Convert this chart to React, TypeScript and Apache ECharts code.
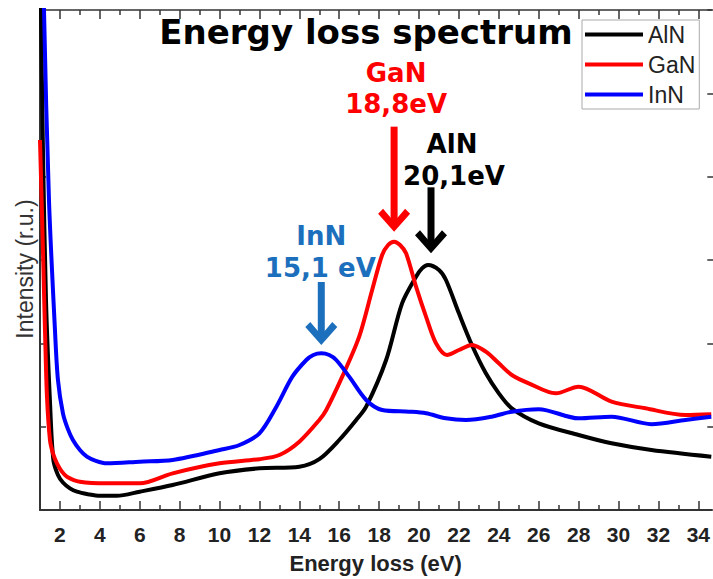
import React, { useEffect, useRef } from "react";
import * as echarts from "echarts";

const alnEnergy = [1.0, 1.05, 1.15, 1.3, 1.5, 1.67, 1.9, 2.15, 2.5, 2.85, 3.4, 4, 4.85, 6, 7.65, 10, 12, 14, 15, 16, 16.85, 17.35, 18.35, 19.15, 19.85, 20.15, 20.45, 21.0, 21.35, 22, 22.65, 23.35, 24, 24.65, 26, 28, 29.65, 31.65, 34.65];
const alnIntensity = [7.0, 6.0, 4.3, 2.52, 1.3, 0.6, 0.42, 0.33, 0.26, 0.22, 0.19, 0.17, 0.17, 0.22, 0.3, 0.44, 0.5, 0.52, 0.61, 0.84, 1.08, 1.24, 1.8, 2.48, 2.8, 2.9, 2.94, 2.88, 2.76, 2.36, 1.98, 1.64, 1.4, 1.22, 1.04, 0.9, 0.8, 0.72, 0.64];

const ganEnergy = [1.0, 1.17, 1.25, 1.35, 1.5, 1.65, 1.85, 2.1, 2.35, 3, 4.35, 6, 7.65, 10, 12, 13, 14, 15, 15.35, 16.15, 17, 17.65, 18.15, 18.45, 18.75, 19.05, 19.35, 19.85, 20.35, 20.85, 21.4, 22, 22.65, 23.35, 24, 24.65, 25.5, 26.85, 28, 29.65, 31.35, 33.35, 34.65];
const ganIntensity = [4.44, 2.92, 2.16, 1.36, 0.84, 0.68, 0.56, 0.46, 0.4, 0.34, 0.32, 0.32, 0.44, 0.56, 0.61, 0.66, 0.82, 1.08, 1.2, 1.6, 2.08, 2.64, 3.06, 3.18, 3.22, 3.18, 3.08, 2.68, 2.32, 2.0, 1.86, 1.92, 1.98, 1.9, 1.76, 1.62, 1.52, 1.4, 1.48, 1.3, 1.22, 1.14, 1.15];

const innEnergy = [1.0, 1.2, 1.45, 1.75, 1.9, 2.15, 2.4, 2.65, 3.0, 3.35, 3.8, 4.35, 6, 7.65, 10, 11, 12, 12.85, 13.65, 14.35, 14.7, 15.1, 15.5, 15.85, 16.5, 17.35, 18.15, 19.5, 20.35, 21.35, 22.35, 23.65, 24.65, 26, 28, 29.65, 31.65, 33.35, 34.65];
const innIntensity = [9, 6.0, 3.72, 2.16, 1.56, 1.16, 0.97, 0.84, 0.72, 0.64, 0.59, 0.56, 0.58, 0.6, 0.72, 0.78, 0.92, 1.24, 1.6, 1.8, 1.86, 1.88, 1.86, 1.8, 1.6, 1.32, 1.2, 1.18, 1.16, 1.1, 1.08, 1.12, 1.18, 1.21, 1.1, 1.12, 1.03, 1.08, 1.12];

const seriesNames = ["AlN", "GaN", "InN"];
const majorTicks = [2, 4, 6, 8, 10, 12, 14, 16, 18, 20, 22, 24, 26, 28, 30, 32, 34];
const minorTicks = [3, 5, 7, 9, 11, 13, 15, 17, 19, 21, 23, 25, 27, 29, 31, 33];

const peakNames = ["GaN", "AlN", "InN"];
const peakValueTexts = ["18,8eV", "20,1eV", "15,1 eV"];
const peakArrowEnergy = [18.75, 20.6, 15.1];
const peakArrowTipIntensity = [3.34, 3.08, 1.98];

const zip = (xs: number[], ys: number[]) => xs.map((x, i) => [x, ys[i]]);

export default function App() {
  const ref = useRef<HTMLDivElement>(null);

  useEffect(() => {
    if (!ref.current) return;
    const chart = echarts.init(ref.current, null, { renderer: "svg" });
    const colors = ["#000000", "#ff0000", "#0000ff"];
    const axisColor = "#333";
    const xRange = { min: 1, max: 34.65 };
    const labelFont = "Liberation Sans";

    const baseX = (pos: string, ticks: number[], len: number, showLine: boolean, showLabel: boolean, extra: any = {}) => ({
      type: "value",
      position: pos,
      ...xRange,
      axisLine: { show: showLine, onZero: false, lineStyle: { color: axisColor, width: pos === "bottom" ? 2 : 1.5 } },
      axisTick: { show: true, inside: true, length: len, customValues: ticks, lineStyle: { color: axisColor, width: 1.5 } },
      axisLabel: showLabel
        ? { show: true, customValues: ticks, margin: 14, fontSize: 21, fontWeight: "bold", fontFamily: labelFont, color: "#222" }
        : { show: false },
      splitLine: { show: false },
      ...extra,
    });

    const option: any = {
      animation: false,
      title: {
        text: "Energy loss spectrum",
        left: 366,
        top: 32,
        textAlign: "center",
        textVerticalAlign: "middle",
        padding: 0,
        textStyle: { fontFamily: "DejaVu Sans", fontWeight: "bold", fontSize: 34, color: "#000" },
      },
      legend: {
        data: seriesNames,
        orient: "vertical",
        left: 582,
        top: 20,
        icon: "rect",
        itemWidth: 58,
        itemHeight: 4,
        itemGap: 7,
        padding: [3, 4, 3, 3],
        borderColor: "#aaa",
        borderWidth: 1,
        backgroundColor: "#fff",
        textStyle: { fontFamily: labelFont, fontSize: 23, color: "#222" },
      },
      grid: { left: 40, top: 10, right: 0, bottom: 69, containLabel: false },
      xAxis: [
        baseX("bottom", majorTicks, 9, true, true, {
          name: "Energy loss (eV)",
          nameLocation: "middle",
          nameGap: 42,
          nameTextStyle: { fontFamily: labelFont, fontWeight: "bold", fontSize: 22, color: "#222" },
        }),
        baseX("bottom", minorTicks, 5, false, false),
        baseX("top", majorTicks, 9, true, false),
        baseX("top", minorTicks, 5, false, false),
      ],
      yAxis: [
        {
          type: "value",
          position: "left",
          min: 0,
          max: 6,
          interval: 1,
          axisLine: { show: true, lineStyle: { color: axisColor, width: 2 } },
          axisTick: { show: true, inside: true, length: 6, lineStyle: { color: axisColor, width: 1.5 } },
          axisLabel: { show: false },
          splitLine: { show: false },
        },
        {
          type: "value",
          position: "right",
          offset: 7,
          min: 0,
          max: 6,
          interval: 1,
          axisLine: { show: true, lineStyle: { color: axisColor, width: 2 } },
          axisTick: { show: true, inside: true, length: 11, lineStyle: { color: axisColor, width: 1.5 } },
          axisLabel: { show: false },
          splitLine: { show: false },
        },
      ],
      series: [
        { name: "AlN", data: zip(alnEnergy, alnIntensity) },
        { name: "GaN", data: zip(ganEnergy, ganIntensity) },
        { name: "InN", data: zip(innEnergy, innIntensity) },
      ].map((s, i) => ({
        ...s,
        type: "line",
        xAxisIndex: 0,
        yAxisIndex: 0,
        smooth: 0.3,
        symbol: "none",
        showSymbol: false,
        clip: true,
        color: colors[i],
        lineStyle: { color: colors[i], width: 4, join: "round" },
      })),
    };
    chart.setOption(option);

    // annotation layout (pixel offsets relative to arrow tip)
    const annColors = ["#ff0000", "#000000", "#1c6fbc"];
    const shaftLen = [105, 66, 63];
    const nameOffset = [[2, -159], [21, -109], [0, -109]];
    const valueOffset = [[2, -128], [23, -77], [-1, -77]];
    const annFont = { fontFamily: "DejaVu Sans", fontWeight: "bold", fontSize: 26 } as any;

    const graphics: any[] = [];
    peakNames.forEach((nm, i) => {
      const p = chart.convertToPixel({ seriesIndex: 0 }, [peakArrowEnergy[i], peakArrowTipIntensity[i]]) as number[];
      const x = p[0];
      const t = p[1];
      const c = annColors[i];
      graphics.push({
        type: "line",
        shape: { x1: x, y1: t - shaftLen[i], x2: x, y2: t - 6 },
        style: { stroke: c, lineWidth: 7 },
        z: 100,
      });
      graphics.push({
        type: "polygon",
        shape: { points: [[x, t], [x + 16, t - 18], [x + 11, t - 23], [x, t - 10], [x - 11, t - 23], [x - 16, t - 18]] },
        style: { fill: c },
        z: 100,
      });
      graphics.push({
        type: "text",
        x: x + nameOffset[i][0],
        y: t + nameOffset[i][1],
        style: { text: nm, fill: c, align: "center", verticalAlign: "middle", ...annFont },
        z: 100,
      });
      graphics.push({
        type: "text",
        x: x + valueOffset[i][0],
        y: t + valueOffset[i][1],
        style: { text: peakValueTexts[i], fill: c, align: "center", verticalAlign: "middle", ...annFont },
        z: 100,
      });
    });
    graphics.push({
      type: "text",
      x: 25,
      y: 269,
      rotation: Math.PI / 2,
      style: { text: "Intensity (r.u.)", fill: "#333", align: "center", verticalAlign: "middle", fontFamily: labelFont, fontSize: 23 },
    });
    chart.setOption({ graphic: graphics });

    return () => chart.dispose();
  }, []);

  return <div ref={ref} style={{ position: "fixed", left: 0, top: 0, width: 713, height: 579, background: "#fff" }} />;
}
